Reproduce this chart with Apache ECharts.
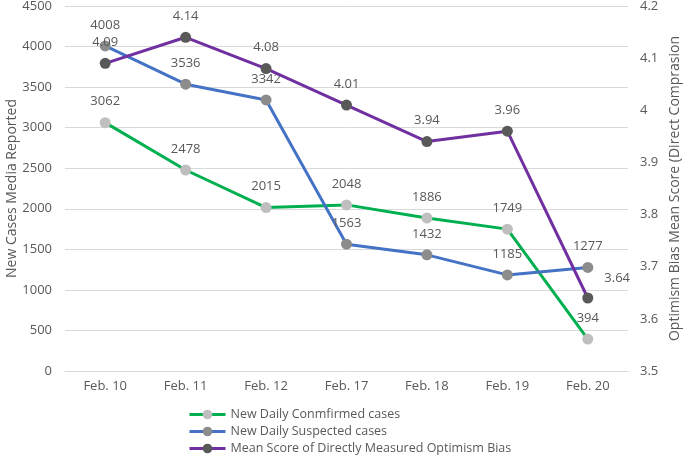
<!DOCTYPE html>
<html><head><meta charset="utf-8">
<script src="https://cdn.jsdelivr.net/npm/echarts@6/dist/echarts.min.js"></script>
<style>html,body{margin:0;padding:0;background:#fff}#c{width:685px;height:461px}</style>
</head><body><div id="c"></div>
<script>
const categories = ['Feb. 10','Feb. 11','Feb. 12','Feb. 17','Feb. 18','Feb. 19','Feb. 20'];
const confirmed = [3062, 2478, 2015, 2048, 1886, 1749, 394];
const suspected = [4008, 3536, 3342, 1563, 1432, 1185, 1277];
const meanScore = [4.09, 4.14, 4.08, 4.01, 3.94, 3.96, 3.64];
const leftTicks = [0, 4500, 500];
const rightTicks = [3.5, 4.2, 0.1];

const FONT = '"Open Sans", sans-serif';
const TXT = '#595959';
const lbl = {show:true, position:'top', distance:9, color:TXT, fontSize:13, fontFamily:FONT};

const chart = echarts.init(document.getElementById('c'));
chart.setOption({
  animation:false,
  textStyle:{fontFamily:FONT},
  grid:{left:65, right:57, top:6, bottom:90, outerBoundsMode:'none', containLabel:false},
  legend:{
    orient:'vertical', left:183, top:403, itemGap:4, itemWidth:36, itemHeight:12,
    lineStyle:{width:3},
    textStyle:{color:TXT, fontSize:12.5, fontFamily:FONT},
    data:['New Daily Conmfirmed cases','New Daily Suspected cases','Mean Score of Directly Measured Optimism Bias']
  },
  xAxis:{
    type:'category', data:categories, boundaryGap:true,
    axisLine:{lineStyle:{color:'#D9D9D9'}}, axisTick:{show:false},
    axisLabel:{color:TXT, fontSize:13, margin:9, fontFamily:FONT}
  },
  yAxis:[
    {type:'value', min:leftTicks[0], max:leftTicks[1], interval:leftTicks[2],
     name:'New Cases Media Reported', nameLocation:'middle', nameGap:46, nameRotate:90, nameMoveOverlap:false,
     nameTextStyle:{color:TXT, fontSize:14, fontFamily:FONT},
     axisLabel:{color:TXT, fontSize:13, margin:13, fontFamily:FONT, formatter:v=>String(v)},
     splitLine:{lineStyle:{color:'#D9D9D9'}}, axisLine:{show:false}, axisTick:{show:false}},
    {type:'value', min:rightTicks[0], max:rightTicks[1], interval:rightTicks[2],
     name:'Optimism Bias Mean Score (Direct Comprasion', nameLocation:'middle', nameGap:40, nameRotate:90, nameMoveOverlap:false,
     nameTextStyle:{color:TXT, fontSize:14, fontFamily:FONT},
     axisLabel:{color:TXT, fontSize:13, margin:12, fontFamily:FONT, formatter:v=>String(+v.toFixed(2))},
     splitLine:{show:false}, axisLine:{show:false}, axisTick:{show:false}}
  ],
  series:[
    {name:'New Daily Conmfirmed cases', type:'line', yAxisIndex:0, data:confirmed,
     symbol:'circle', symbolSize:11, lineStyle:{color:'#00B050', width:3},
     itemStyle:{color:'#BFBFBF'}, label:lbl, z:3},
    {name:'New Daily Suspected cases', type:'line', yAxisIndex:0, data:suspected,
     symbol:'circle', symbolSize:11, lineStyle:{color:'#4472C4', width:3},
     itemStyle:{color:'#8C8C8C'}, label:lbl, z:4},
    {name:'Mean Score of Directly Measured Optimism Bias', type:'line', yAxisIndex:1,
     data:meanScore.map((v,i)=> i===meanScore.length-1 ? {value:v, label:{position:'right', offset:[2,-20]}} : v),
     symbol:'circle', symbolSize:11, lineStyle:{color:'#7030A0', width:3},
     itemStyle:{color:'#595959'}, label:lbl, z:5}
  ]
});
</script></body></html>
